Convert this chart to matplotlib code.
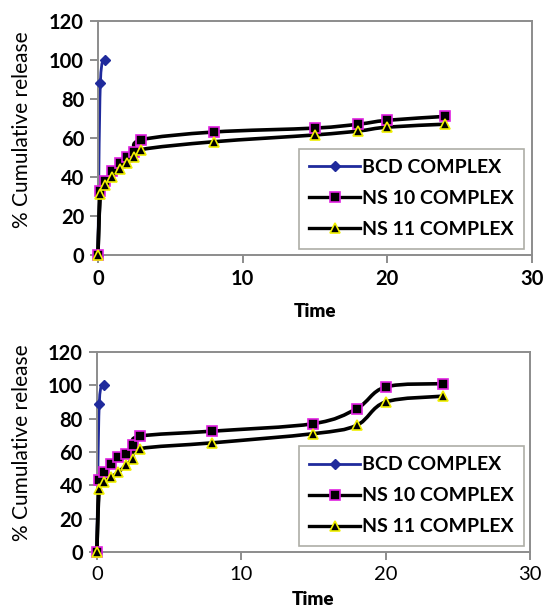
import matplotlib
matplotlib.use("Agg")
import matplotlib.pyplot as plt
from matplotlib.path import Path
from matplotlib.patches import PathPatch
from matplotlib.lines import Line2D
import numpy as np

# Sampling times (h)
bcd_time = [0, 0.17, 0.5]
ns_time = [0, 0.17, 0.5, 1, 1.5, 2, 2.5, 3, 8, 15, 18, 20, 24]

# Panel 1: cumulative release (%)
bcd_top = [0, 88, 100]
ns10_top = [0, 33, 38, 43, 47, 50, 53, 59, 63, 65, 67, 69, 71]
ns11_top = [0, 31, 36, 40, 44, 47, 50, 54, 58, 61.5, 63.5, 65.5, 67]

# Panel 2: cumulative release (%)
bcd_bot = [0, 89, 100]
ns10_bot = [0, 43, 48, 53, 57, 59, 64, 69.5, 72.5, 77, 86, 99, 101]
ns11_bot = [0, 38, 42, 45, 48, 52, 56, 62, 65.5, 71, 76, 90, 93.5]

x_ticks = [0, 10, 20, 30]
y_ticks = [0, 20, 40, 60, 80, 100, 120]
labels = ["BCD COMPLEX", "NS 10 COMPLEX", "NS 11 COMPLEX"]

FONT = "Lato"
BLUE = "#1f2a9c"
SPINE = "#8c8c8c"


def smooth_path(x, y):
    """Cubic Bezier path through the points (Catmull-Rom style smoothing)."""
    pts = np.column_stack([x, y]).astype(float)
    n = len(pts)
    verts = [pts[0]]
    codes = [Path.MOVETO]
    for i in range(n - 1):
        p0 = pts[i - 1] if i > 0 else pts[i]
        p1 = pts[i]
        p2 = pts[i + 1]
        p3 = pts[i + 2] if i + 2 < n else pts[i + 1]
        c1 = p1 + (p2 - p0) / 6.0
        c2 = p2 - (p3 - p1) / 6.0
        verts += [c1, c2, p2]
        codes += [Path.CURVE4] * 3
    return Path(verts, codes)


def draw_series(ax, x, y, color, lw, z):
    ax.add_patch(PathPatch(smooth_path(x, y), facecolor="none", edgecolor=color,
                           lw=lw, zorder=z, capstyle="round", joinstyle="round",
                           clip_on=False))


def panel(ax, bcd, ns10, ns11, xbold, xpad, ylab_xy, leg_anchor):
    draw_series(ax, bcd_time, bcd, BLUE, 2.0, 2)
    ax.plot(bcd_time, bcd, linestyle="none", marker="D", ms=5, color=BLUE,
            mec=BLUE, zorder=5, clip_on=False)
    draw_series(ax, ns_time, ns10, "black", 2.6, 3)
    draw_series(ax, ns_time, ns11, "black", 2.6, 3)
    ax.plot(ns_time, ns10, linestyle="none", marker="s", ms=7.5, mfc="black",
            mec="#e020e0", mew=1.2, zorder=6, clip_on=False)
    ax.plot(ns_time, ns11, linestyle="none", marker="^", ms=7, mfc="black",
            mec="#f0f000", mew=1.2, zorder=7, clip_on=False)

    ax.set_xlim(0, 30)
    ax.set_ylim(0, 120)
    ax.set_xticks(x_ticks)
    ax.set_yticks(y_ticks)
    ax.set_xticklabels([str(t) for t in x_ticks], fontsize=14.5, family=FONT,
                       fontweight="bold" if xbold else "normal")
    ax.set_yticklabels([str(t) for t in y_ticks], fontsize=14.5, family=FONT,
                       fontweight="bold")
    for s in ax.spines.values():
        s.set_color(SPINE)
        s.set_linewidth(1.4)
    ax.tick_params(axis="both", direction="out", color=SPINE, width=1.4,
                   length=6, pad=4)
    ax.set_ylabel("% Cumulative release", fontsize=15, family=FONT)
    ax.yaxis.set_label_coords(*ylab_xy)
    ax.set_xlabel("Time", fontsize=13.5, family=FONT, fontweight="heavy",
                  labelpad=xpad)

    handles = [
        Line2D([], [], color=BLUE, lw=2, marker="D", ms=5, mfc=BLUE, mec=BLUE),
        Line2D([], [], color="black", lw=2.4, marker="s", ms=7.5, mfc="black",
               mec="#e020e0", mew=1.2),
        Line2D([], [], color="black", lw=2.4, marker="^", ms=7, mfc="black",
               mec="#f0f000", mew=1.2),
    ]
    leg = ax.legend(handles, labels, loc="lower right",
                    bbox_to_anchor=leg_anchor, frameon=True, fancybox=False,
                    prop={"family": FONT, "weight": "bold", "size": 14},
                    handlelength=2.6, handletextpad=0.1, labelspacing=0.72,
                    borderpad=0.55, borderaxespad=0)
    leg.get_frame().set_edgecolor("#9a9a90")
    leg.get_frame().set_linewidth(1.2)


fig = plt.figure(figsize=(5.44, 6.10), dpi=100)
ax1 = fig.add_axes([0.180, 0.582, 0.798, 0.384])
ax2 = fig.add_axes([0.178, 0.095, 0.796, 0.328])

panel(ax1, bcd_top, ns10_top, ns11_top, xbold=True, xpad=10,
      ylab_xy=(-0.152, 0.535), leg_anchor=(0.982, 0.026))
panel(ax2, bcd_bot, ns10_bot, ns11_bot, xbold=False, xpad=6,
      ylab_xy=(-0.15, 0.545), leg_anchor=(0.987, 0.03))

fig.savefig("out.png", dpi=100)
